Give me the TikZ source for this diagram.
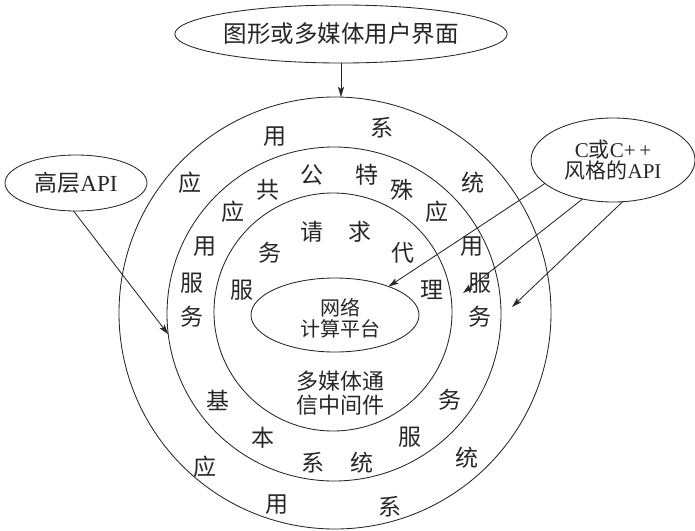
\documentclass[tikz,border=0pt]{standalone}
\usepackage{fontspec}
\setmainfont{Liberation Serif}
\newfontfamily\cjk{Noto Sans CJK SC}
\usetikzlibrary{shapes.geometric,arrows.meta}
\begin{document}
\begin{tikzpicture}[x=1pt,y=-1pt,
  ln/.style={draw=black!85, line width=0.85pt},
  ring/.style={ln, circle, inner sep=0pt, outer sep=0pt},
  oval/.style={ln, ellipse, inner sep=0pt, outer sep=0pt, align=center, text=black!85},
  ch/.style={font=\cjk\fontsize{23}{23}\selectfont, inner sep=0pt, text=black!85},
  mid/.style={font=\cjk\fontsize{22}{24}\selectfont, inner sep=0pt, align=center, text=black!85},
  arr/.style={draw=black!85, line width=0.85pt, -{Stealth[length=10pt,width=6pt,inset=2pt]}}
]
\useasboundingbox (0,0) rectangle (695,530);
% rings
\node[ring, minimum size=432pt] (outer) at (335,313) {};
\node[ring, minimum size=334pt] (middle) at (334,314) {};
\node[ring, minimum size=238pt] (inner) at (333,312) {};
\node[oval, minimum width=168pt, minimum height=74pt] (net) at (335,315) {};
\node[mid, font=\cjk\fontsize{20}{21}\selectfont] (nettext) at (340,318) {网络\\计算平台};
\node[mid] (mmw) at (340,393) {多媒体通\\信中间件};
% outer ovals
\node[oval, minimum width=296pt, minimum height=58pt, font=\cjk\fontsize{23.5}{23.5}\selectfont] (gui) at (341,34) {图形或多媒体用户界面};
\node[oval, minimum width=142pt, minimum height=56pt, font=\fontsize{23}{23}\selectfont] (hl) at (76,183) {{\cjk 高层}API};
\node[oval, minimum width=164pt, minimum height=84pt, font=\fontsize{21}{22}\selectfont] (capi) at (613,160) {C{\cjk 或}C+\,+\\[-1pt]{\cjk 风格的}API};
% outer ring text
\node[ch] (o1) at (275,137) {用};
\node[ch] (o2) at (382,128) {系};
\node[ch] (o3) at (190,183) {应};
\node[ch] (o4) at (473,183) {统};
\node[ch] (o5) at (205,467) {应};
\node[ch] (o6) at (467,458) {统};
\node[ch] (o7) at (277,505) {用};
\node[ch] (o8) at (390,507) {系};
% middle ring text
\node[ch] (m1) at (233,212) {应};
\node[ch] (m2) at (268,190) {共};
\node[ch] (m3) at (312,175) {公};
\node[ch] (m4) at (367,175) {特};
\node[ch] (m5) at (402,190) {殊};
\node[ch] (m6) at (437,212) {应};
\node[ch] (m7) at (205,247) {用};
\node[ch] (m8) at (472,247) {用};
\node[ch] (m9) at (192,283) {服};
\node[ch] (m10) at (192,317) {务};
\node[ch] (m11) at (480,283) {服};
\node[ch] (m12) at (480,317) {务};
\node[ch] (m13) at (218,400) {基};
\node[ch] (m14) at (450,400) {务};
\node[ch] (m15) at (263,438) {本};
\node[ch] (m16) at (410,437) {服};
\node[ch] (m17) at (313,463) {系};
\node[ch] (m18) at (362,463) {统};
% inner ring text
\node[ch] (i1) at (312,232) {请};
\node[ch] (i2) at (360,232) {求};
\node[ch] (i3) at (270,253) {务};
\node[ch] (i4) at (403,253) {代};
\node[ch] (i5) at (242,290) {服};
\node[ch] (i6) at (432,290) {理};
% arrows
\coordinate (t2) at (463,293);
\coordinate (t3) at (512,307);
\draw[arr] (gui.south) -- (gui.south |- outer.north);
\draw[arr] (hl.265) -- (middle.187);
\draw[arr] (capi.199) -- (net.28);
\draw[arr] (capi.232) -- (t2);
\draw[arr] (capi.283) -- (t3);
\end{tikzpicture}
\end{document}
